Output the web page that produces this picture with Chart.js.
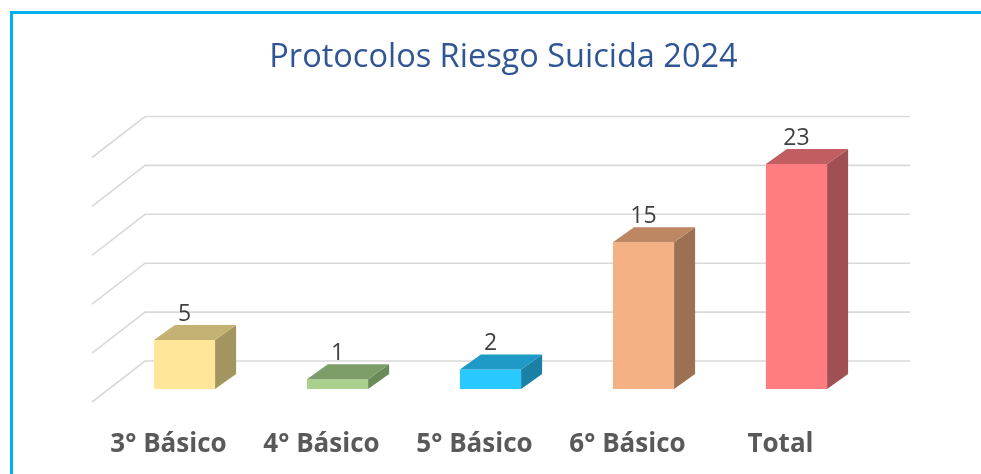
<!DOCTYPE html>
<html>
<head>
<meta charset="utf-8">
<title>Protocolos Riesgo Suicida 2024</title>
<script src="https://cdn.jsdelivr.net/npm/chart.js@4.4.1/dist/chart.umd.min.js"></script>
<style>
  html, body { margin: 0; padding: 0; background: #fff; }
  #wrap { position: relative; width: 981px; height: 474px; overflow: hidden; }
  #frame { position: absolute; left: 10px; top: 11px; right: -10px; bottom: -10px;
           border-left: 3px solid #00b0f0; border-top: 3px solid #00b0f0; }
  #chart { position: absolute; left: 0; top: 0; }
</style>
</head>
<body>
<div id="wrap">
  <div id="frame"></div>
  <canvas id="chart" width="981" height="474"></canvas>
</div>
<script>
const categories = ['3° Básico', '4° Básico', '5° Básico', '6° Básico', 'Total'];
const values = [5, 1, 2, 15, 23];
const frontColors = ['#FFE699', '#A9D18E', '#29C8FF', '#F4B183', '#FF7C80'];
const topColors = ['#C4B275', '#7D9D69', '#1F99C6', '#BE8764', '#C05E61'];
const sideColors = ['#A39560', '#6B8A5A', '#1A80A6', '#9C7152', '#A05052'];

// perspective offsets (pixels)
const WALL = { dx: 37, dy: -28 };   // back wall relative to bar front plane
const FLOOR = { dx: -16, dy: 13 };  // front edge of floor relative to bar front plane
const DEPTH = { dx: 21, dy: -15 };  // bar depth

const threeD = {
  id: 'threeD',
  beforeDatasetsDraw(chart) {
    const { ctx, chartArea, scales } = chart;
    const y = scales.y;
    ctx.save();
    ctx.strokeStyle = '#d9d9d9';
    ctx.lineWidth = 1.6;
    y.ticks.forEach(t => {
      const py = y.getPixelForValue(t.value);
      ctx.beginPath();
      ctx.moveTo(chartArea.left + FLOOR.dx, py + FLOOR.dy);
      ctx.lineTo(chartArea.left + WALL.dx, py + WALL.dy);
      ctx.lineTo(chartArea.right + WALL.dx, py + WALL.dy);
      ctx.stroke();
    });
    ctx.restore();
  },
  afterDatasetsDraw(chart) {
    const { ctx } = chart;
    const meta = chart.getDatasetMeta(0);
    ctx.save();
    meta.data.forEach((bar, i) => {
      const l = bar.x - bar.width / 2, r = bar.x + bar.width / 2;
      const top = bar.y, base = bar.base;
      // side face
      ctx.fillStyle = sideColors[i];
      ctx.beginPath();
      ctx.moveTo(r, top);
      ctx.lineTo(r + DEPTH.dx, top + DEPTH.dy);
      ctx.lineTo(r + DEPTH.dx, base + DEPTH.dy);
      ctx.lineTo(r, base);
      ctx.closePath();
      ctx.fill();
      // top face
      ctx.fillStyle = topColors[i];
      ctx.beginPath();
      ctx.moveTo(l, top);
      ctx.lineTo(l + DEPTH.dx, top + DEPTH.dy);
      ctx.lineTo(r + DEPTH.dx, top + DEPTH.dy);
      ctx.lineTo(r, top);
      ctx.closePath();
      ctx.fill();
      // value label
      ctx.fillStyle = '#404040';
      ctx.font = '23px "Open Sans"';
      ctx.textAlign = 'center';
      ctx.textBaseline = 'alphabetic';
      ctx.fillText(String(values[i]), bar.x, top - 19);
    });
    ctx.restore();
  }
};

Chart.defaults.font.family = '"Open Sans", sans-serif';

new Chart(document.getElementById('chart').getContext('2d'), {
  type: 'bar',
  data: {
    labels: categories,
    datasets: [{
      data: values,
      backgroundColor: frontColors,
      borderWidth: 0,
      categoryPercentage: 1,
      barPercentage: 0.4
    }]
  },
  options: {
    responsive: false,
    animation: false,
    layout: { padding: { left: 108, right: 82, top: 38, bottom: 14 } },
    plugins: {
      legend: { display: false },
      tooltip: { enabled: false },
      title: {
        display: true,
        text: 'Protocolos Riesgo Suicida 2024',
        color: '#2F5597',
        font: { size: 32.5, weight: 'normal' },
        padding: { top: 0, bottom: 67.5 }
      }
    },
    scales: {
      x: {
        grid: { display: false, drawTicks: false },
        border: { display: false },
        ticks: {
          color: '#595959',
          font: { size: 26, weight: 'bold' },
          padding: 40,
          labelOffset: -16,
          maxRotation: 0
        },
        afterFit(scale) { scale.height = 71; }
      },
      y: {
        position: 'right',
        min: 0,
        max: 25,
        grid: { display: false, drawTicks: false },
        border: { display: false },
        ticks: { stepSize: 5, display: false },
        afterFit(scale) { scale.width = 26; }
      }
    }
  },
  plugins: [threeD]
});
</script>
</body>
</html>
